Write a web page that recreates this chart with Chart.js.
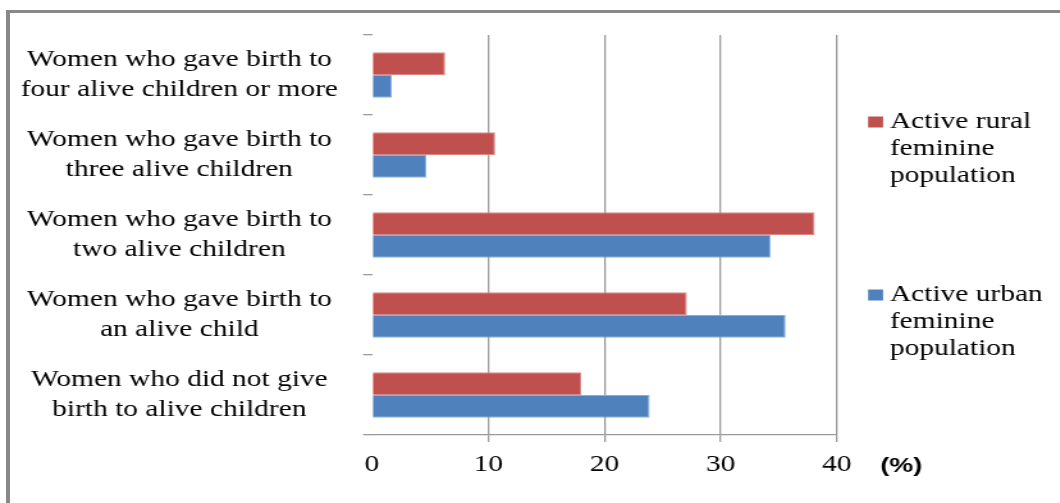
<!DOCTYPE html>
<html>
<head>
<meta charset="utf-8">
<script src="https://cdn.jsdelivr.net/npm/chart.js@4/dist/chart.umd.min.js"></script>
<style>
  html, body { margin: 0; padding: 0; background: #fff; }
  #frame {
    position: absolute; left: 6px; top: 10px; width: 1100px; height: 600px;
    border-top: 3px solid #888; border-left: 4px solid #888;
  }
  #wrap { position: absolute; left: 0; top: 0; width: 1060px; height: 503px; overflow: hidden; }
  /* the original picture is stretched sideways, so draw narrow and widen */
  #chart { transform: scaleX(1.28); transform-origin: 0 0; }
</style>
</head>
<body>
<div id="frame"></div>
<div id="wrap"><canvas id="chart" width="828" height="503"></canvas></div>
<script>
// Categories (top to bottom)
const categories = [
  ['Women who gave birth to', 'four alive children or more'],
  ['Women who gave birth to', 'three alive children'],
  ['Women who gave birth to', 'two alive children'],
  ['Women who gave birth to', 'an alive child'],
  ['Women who did not give', 'birth to alive children']
];

// Series values (%)
const ruralValues = [6.3, 10.6, 38.1, 27.1, 18.0];
const urbanValues = [1.7, 4.7, 34.3, 35.6, 23.9];

const ruralLabel = ['Active rural', 'feminine', 'population'];
const urbanLabel = ['Active urban', 'feminine', 'population'];

// X axis ticks
const xTicks = [0, 10, 20, 30, 40];
const unitLabel = '(%)';

const serif = '"Liberation Serif", "Times New Roman", serif';

// Legend and unit text drawn beside the plot
const sidePlugin = {
  id: 'sideText',
  afterDraw(chart) {
    const ctx = chart.ctx;
    const area = chart.chartArea;
    ctx.save();
    ctx.fillStyle = '#000';
    ctx.textBaseline = 'middle';

    // legend
    const entries = [
      { ds: chart.data.datasets[0], lines: ruralLabel, y: 122 },
      { ds: chart.data.datasets[1], lines: urbanLabel, y: 295 }
    ];
    ctx.font = '23px ' + serif;
    entries.forEach(e => {
      ctx.fillStyle = e.ds.backgroundColor;
      ctx.fillRect(area.right + 24.5, e.y - 5.5, 11.7, 11);
      ctx.fillStyle = '#000';
      ctx.textAlign = 'left';
      e.lines.forEach((line, i) => {
        ctx.fillText(line, area.right + 41.5, e.y + i * 27);
      });
    });

    // unit label
    ctx.font = 'bold 21px "Liberation Sans", Arial, sans-serif';
    ctx.textAlign = 'center';
    ctx.fillText(unitLabel, area.right + 50.5, 466);
    ctx.restore();
  }
};

new Chart(document.getElementById('chart'), {
  type: 'bar',
  data: {
    labels: categories,
    datasets: [
      {
        label: ruralLabel.join(' '),
        data: ruralValues,
        backgroundColor: '#C0504D',
        borderColor: '#D98A88',
        borderWidth: 1,
        barPercentage: 1.0,
        categoryPercentage: 0.57
      },
      {
        label: urbanLabel.join(' '),
        data: urbanValues,
        backgroundColor: '#4F81BD',
        borderColor: '#8AAEDB',
        borderWidth: 1,
        barPercentage: 1.0,
        categoryPercentage: 0.57
      }
    ]
  },
  options: {
    indexAxis: 'y',
    responsive: false,
    animation: false,
    devicePixelRatio: 1,
    layout: { padding: { top: 35, right: 174.3, left: 16, bottom: 0 } },
    plugins: {
      legend: { display: false },
      tooltip: { enabled: false }
    },
    scales: {
      x: {
        min: xTicks[0],
        max: xTicks[xTicks.length - 1],
        afterBuildTicks: (scale) => { scale.ticks = xTicks.map(v => ({ value: v })); },
        afterFit: (scale) => {
          scale.height = 68;
          scale.paddingLeft = 0;
          scale.paddingRight = 0;
        },
        grid: {
          color: (c) => (c.tick && c.tick.value === 0 ? 'rgba(0,0,0,0)' : '#9a9a9a'),
          lineWidth: 1.3,
          drawTicks: true,
          tickLength: 7
        },
        border: { display: true, color: '#9a9a9a', width: 1.3 },
        ticks: {
          color: '#000',
          font: { family: serif, size: 23 },
          padding: 9,
          maxRotation: 0
        }
      },
      y: {
        offset: true,
        afterFit: (scale) => {
          scale.width = 274.6;
          scale.paddingTop = 0;
          scale.paddingBottom = 0;
        },
        grid: {
          offset: true,
          drawOnChartArea: false,
          drawTicks: true,
          tickLength: 7,
          color: '#9a9a9a',
          lineWidth: 1.3
        },
        border: { display: false },
        ticks: {
          color: '#000',
          crossAlign: 'center',
          padding: 19.6,
          font: { family: serif, size: 23, lineHeight: 1.3 }
        }
      }
    }
  },
  plugins: [sidePlugin]
});
</script>
</body>
</html>
